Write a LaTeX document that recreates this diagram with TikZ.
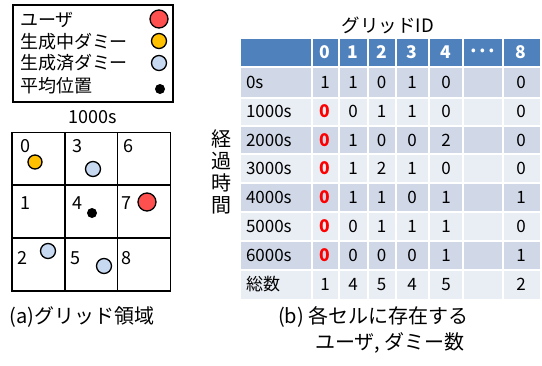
\documentclass[tikz,border=0pt]{standalone}
\usepackage{fontspec}
\setmainfont{Noto Sans CJK JP}
\definecolor{hdr}{HTML}{4F81BD}
\definecolor{rowA}{HTML}{D0D8E8}
\definecolor{rowB}{HTML}{E9EDF4}
\definecolor{ured}{HTML}{FF5050}
\definecolor{uyel}{HTML}{FFC000}
\definecolor{ublue}{HTML}{C6D9F1}
\begin{document}
\begin{tikzpicture}[x=1pt,y=-1pt,
  every node/.style={inner sep=0pt,outer sep=0pt},
  txt/.style={font=\fontsize{17}{20}\selectfont},
  legtxt/.style={font=\fontsize{18}{21}\selectfont},
  captxt/.style={font=\fontsize{20}{24}\selectfont},
  hd/.style={font=\fontsize{17.5}{20}\selectfont\bfseries,text=white},
  redz/.style={font=\fontsize{17.5}{20}\selectfont\bfseries,text=red},
  dotmk/.style={circle,draw=black,line width=1.3pt},
  avgdot/.style={circle,fill=black,minimum size=10pt},
  cell/.style={draw=black,line width=1.1pt,minimum size=53pt},
  gap/.style={white,line width=2pt}]
\useasboundingbox (0,0) rectangle (542,365);

% legend
\node[draw=black,line width=2.2pt,minimum width=160pt,minimum height=97pt] (legend) at (93,53.5) {};
\node[legtxt,anchor=west] (l1) at (20,20) {ユーザ};
\node[legtxt,anchor=west] (l2) at (20,42) {生成中ダミー};
\node[legtxt,anchor=west] (l3) at (20,63) {生成済ダミー};
\node[legtxt,anchor=west] (l4) at (20,86) {平均位置};
\node[dotmk,fill=ured,minimum size=18pt] (m1) at (159,19) {};
\node[dotmk,fill=uyel,minimum size=15pt] (m2) at (159,41) {};
\node[dotmk,fill=ublue,minimum size=15pt] (m3) at (159,63) {};
\node[avgdot] (m4) at (160,89) {};

% grid
\node[legtxt] (gt) at (93,117) {1000s};
\foreach \k/\cx/\cy in {0/38.5/159,1/38.5/211.5,2/38.5/264.5,3/91/159,4/91/211.5,5/91/264.5,6/144/159,7/144/211.5,8/144/264.5}
  \node[cell] (c\k) at (\cx,\cy) {};
\foreach \k/\nx/\ny in {0/25/146,3/77/146,6/128/146,1/25/203,4/77/203,7/126/203,2/22/258,5/75/258,8/126/258}
  \node[legtxt] (n\k) at (\nx,\ny) {\k};
\node[dotmk,fill=uyel,minimum size=14pt] (p0) at (35,162) {};
\node[dotmk,fill=ublue,minimum size=15pt] (p3) at (93,169) {};
\node[avgdot] (pav) at (92,213) {};
\node[dotmk,fill=ured,minimum size=18pt] (p7) at (147,202) {};
\node[dotmk,fill=ublue,minimum size=15pt] (p2) at (48,251) {};
\node[dotmk,fill=ublue,minimum size=15pt] (p5) at (104,266) {};
\node[captxt] (capa) at (82,317) {(a)グリッド領域};

% table
\node[font=\fontsize{18.5}{22}\selectfont] (tt) at (388,25) {グリッドID};
\fill[hdr] (241,39) rectangle (540,67);
\fill[rowA] (241,67) rectangle (540,97.5);
\fill[rowB] (241,97.5) rectangle (540,125.5);
\fill[rowA] (241,125.5) rectangle (540,154);
\fill[rowB] (241,154) rectangle (540,183);
\fill[rowA] (241,183) rectangle (540,212);
\fill[rowB] (241,212) rectangle (540,241);
\fill[rowA] (241,241) rectangle (540,270);
\fill[rowB] (241,270) rectangle (540,299);
\foreach \x in {311.5,339,367.5,395.5,429,463,502.5}
  \draw[gap] (\x,39) -- (\x,299);
\foreach \y in {67,97.5,125.5,154,183,212,241,270}
  \draw[gap] (241,\y) -- (540,\y);

\foreach \t/\x in {0/325,1/353,2/381.5,3/412,4/446,8/521}
  \node[hd] (h\t) at (\x,52.5) {\t};
\node[hd] (hd) at (483,53) {·\kern-2pt·\kern-2pt·};

\foreach \r/\y/\lab in {0/82/0s,1/111.5/1000s,2/140/2000s,3/168.5/3000s,4/197.5/4000s,5/226.5/5000s,6/255.5/6000s,7/284.5/総数}
  \node[txt,anchor=west] (r\r) at (246,\y) {\lab};

\foreach \r/\y/\a/\b/\c/\d/\e/\f in {
  0/82/1/1/0/1/0/0,
  7/284.5/1/4/5/4/5/2}{
  \node[txt] (v\r-0) at (325,\y) {\a};
  \node[txt] (v\r-1) at (353,\y) {\b};
  \node[txt] (v\r-2) at (381.5,\y) {\c};
  \node[txt] (v\r-3) at (412,\y) {\d};
  \node[txt] (v\r-4) at (446,\y) {\e};
  \node[txt] (v\r-8) at (521,\y) {\f};
}
\foreach \r/\y/\b/\c/\d/\e/\f in {
  1/111.5/0/1/1/0/0,
  2/140/1/0/0/2/0,
  3/168.5/1/2/1/0/0,
  4/197.5/1/1/0/1/1,
  5/226.5/0/1/1/1/0,
  6/255.5/0/0/0/1/1}{
  \node[redz] (v\r-0) at (325,\y) {0};
  \node[txt] (v\r-1) at (353,\y) {\b};
  \node[txt] (v\r-2) at (381.5,\y) {\c};
  \node[txt] (v\r-3) at (412,\y) {\d};
  \node[txt] (v\r-4) at (446,\y) {\e};
  \node[txt] (v\r-8) at (521,\y) {\f};
}

\foreach \i/\ch/\y in {1/経/139,2/過/161,3/時/183,4/間/205}
  \node[captxt] (vt\i) at (221,\y) {\ch};

\node[captxt,anchor=west] (capb1) at (278,317) {(b) 各セルに存在する};
\node[captxt,anchor=west] (capb2) at (315,343) {ユーザ, ダミー数};
\end{tikzpicture}
\end{document}
